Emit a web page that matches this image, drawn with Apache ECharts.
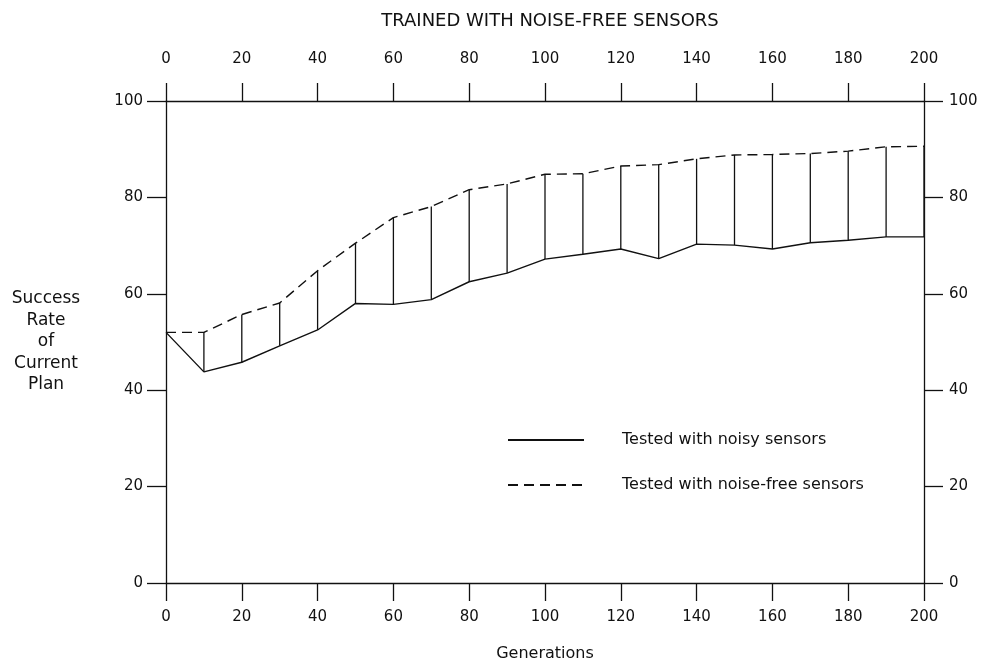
<!DOCTYPE html>
<html>
<head>
<meta charset="utf-8">
<script src="https://cdn.jsdelivr.net/npm/echarts@6/dist/echarts.min.js"></script>
<style>html,body{margin:0;padding:0;background:#fff}#c{width:987px;height:671px}</style>
</head>
<body>
<div id="c"></div>
<script>
var generations = [0,10,20,30,40,50,60,70,80,90,100,110,120,130,140,150,160,170,180,190,200];
var noisy = [52,43.8,45.8,49.2,52.5,58.0,57.8,58.8,62.5,64.3,67.2,68.2,69.3,67.3,70.3,70.1,69.3,70.6,71.1,71.8,71.8];
var noiseFree = [52,52,55.7,58.1,64.8,70.5,75.8,78.1,81.6,82.8,84.8,84.9,86.5,86.8,88.0,88.8,88.9,89.1,89.6,90.5,90.6];
var xTicks = [0,20,40,60,80,100,120,140,160,180,200];
var yTicks = [0,20,40,60,80,100];
var titleText = 'TRAINED WITH NOISE-FREE SENSORS';
var xName = 'Generations';
var yName = 'Success\nRate\nof\nCurrent\nPlan';
var seriesNames = ['Tested with noisy sensors', 'Tested with noise-free sensors'];

var FONT = '"DejaVu Sans", sans-serif';
var INK = '#111';

var noisyData = generations.map(function (g, i) { return [g, noisy[i]]; });
var freeData = generations.map(function (g, i) { return [g, noiseFree[i]]; });
var dropData = [];
for (var i = 1; i < generations.length; i++) dropData.push([generations[i], noisy[i], noiseFree[i]]);

function xAxisCfg(pos, margin) {
  return {
    type: 'value', position: pos, min: 0, max: 200, interval: 20,
    axisLine: {show: true, onZero: false, lineStyle: {color: INK, width: 1.3}},
    axisTick: {show: true, length: 18, lineStyle: {color: INK, width: 1.3}},
    axisLabel: {show: true, margin: margin, color: INK, fontFamily: FONT, fontSize: 15,
      formatter: function (v) { return xTicks.indexOf(v) >= 0 ? String(v) : ''; }},
    splitLine: {show: false}
  };
}
function yAxisCfg(pos, margin) {
  return {
    type: 'value', position: pos, min: 0, max: 100, interval: 20,
    axisLine: {show: true, onZero: false, lineStyle: {color: INK, width: 1.3}},
    axisTick: {show: true, length: 19, lineStyle: {color: INK, width: 1.3}},
    axisLabel: {show: true, margin: margin, color: INK, fontFamily: FONT, fontSize: 15,
      formatter: function (v) { return yTicks.indexOf(v) >= 0 ? String(v) : ''; }},
    splitLine: {show: false}
  };
}

var xb = xAxisCfg('bottom', 27);
xb.name = xName; xb.nameLocation = 'middle'; xb.nameGap = 63;
xb.nameTextStyle = {color: INK, fontFamily: FONT, fontSize: 16};
var xt = xAxisCfg('top', 34);
var yl = yAxisCfg('left', 23);
yl.name = yName; yl.nameLocation = 'middle'; yl.nameRotate = 0; yl.nameGap = 120;
yl.nameTextStyle = {color: INK, fontFamily: FONT, fontSize: 17, align: 'center', lineHeight: 21.5};
var yr = yAxisCfg('right', 25);

var chart = echarts.init(document.getElementById('c'), null, {renderer: 'canvas'});
chart.setOption({
  backgroundColor: '#fff',
  animation: false,
  title: {text: titleText, left: 545, textAlign: 'center', top: 7,
    textStyle: {color: INK, fontFamily: FONT, fontSize: 18, fontWeight: 'normal'}},
  grid: {left: 166, width: 758, top: 101, height: 482, containLabel: false},
  xAxis: [xb, xt],
  yAxis: [yl, yr],
  legend: {
    orient: 'vertical', left: 502, top: 427, itemWidth: 76, itemHeight: 14, itemGap: 29,
    data: seriesNames, selectedMode: false,
    itemStyle: {opacity: 0, borderWidth: 0},
    textStyle: {color: INK, fontFamily: FONT, fontSize: 16, padding: [0, 0, 0, 33]}
  },
  series: [
    {name: seriesNames[0], type: 'line', xAxisIndex: 0, yAxisIndex: 0, data: noisyData,
      symbol: 'none', lineStyle: {color: INK, width: 1.4}, itemStyle: {color: INK}},
    {name: seriesNames[1], type: 'line', xAxisIndex: 0, yAxisIndex: 0, data: freeData,
      symbol: 'none', lineStyle: {color: INK, width: 1.4, type: [10, 6]}, itemStyle: {color: INK}},
    {name: 'drop', type: 'custom', xAxisIndex: 0, yAxisIndex: 0, data: dropData,
      renderItem: function (params, api) {
        var a = api.coord([api.value(0), api.value(1)]);
        var b = api.coord([api.value(0), api.value(2)]);
        return {type: 'line', shape: {x1: a[0], y1: a[1], x2: b[0], y2: b[1]},
          style: {stroke: INK, lineWidth: 1.3}};
      }}
  ]
});
</script>
</body>
</html>
